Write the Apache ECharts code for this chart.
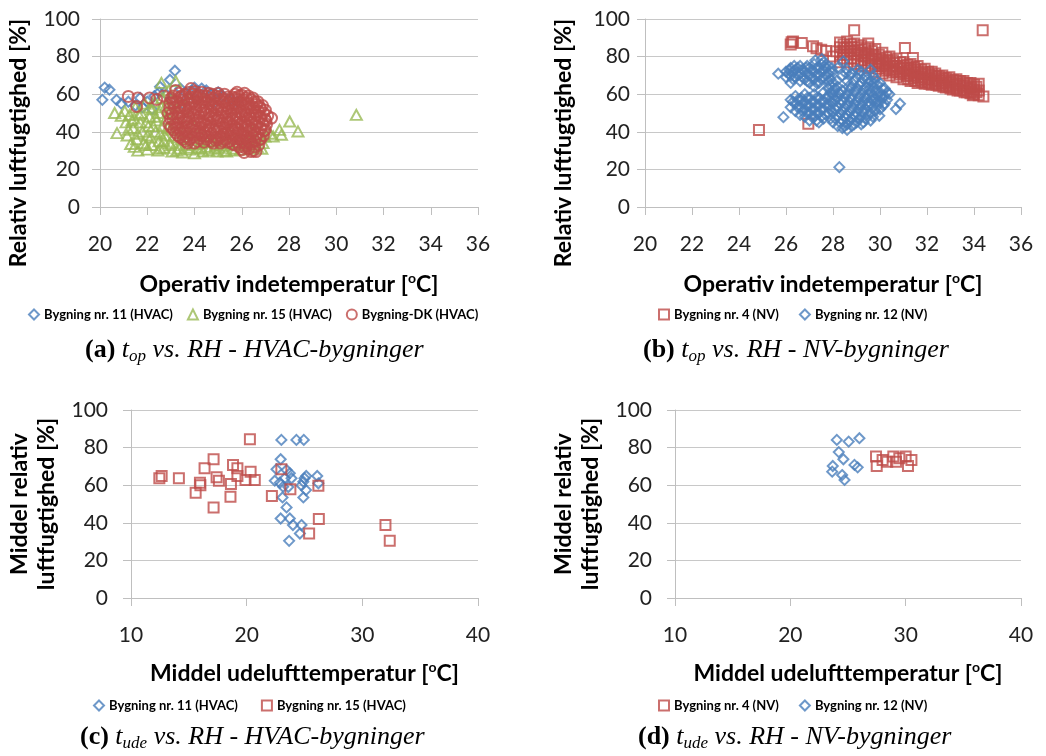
<!DOCTYPE html>
<html>
<head>
<meta charset="utf-8">
<script src="https://cdn.jsdelivr.net/npm/echarts@6/dist/echarts.min.js"></script>
<style>
  html, body { margin: 0; padding: 0; background: #fff; }
  .panel { position: absolute; width: 523px; height: 378px; }
</style>
</head>
<body>
<div id="pa" class="panel" style="left:0;top:0"></div>
<div id="pb" class="panel" style="left:523px;top:0"></div>
<div id="pc" class="panel" style="left:0;top:378px"></div>
<div id="pd" class="panel" style="left:523px;top:378px"></div>
<script>
// ---------- data: [temperature °C, relative humidity %] ----------

// (a) operative indoor temperature vs RH, HVAC buildings
const topHvac11 = [
  [20.1,57],[20.2,63.5],[20.4,62.4],[20.7,57],[20.9,55],[21.2,56],[21.5,54],[21.7,58],
  [22.0,56],[22.2,52],[21.8,53],[22.3,59],[22.5,61],[22.54,64],[22.8,60],[22.96,67.7],
  [23.17,72.5],[23.0,57],[23.4,63],[23.5,55],[23.6,61],[23.9,62],[24.0,63.5],[24.1,57],
  [24.3,63],[24.5,62],[24.7,60],[24.8,55],[25.0,61],[25.2,59],[25.5,57],[25.8,56]
];
const topHvac15 = [
  [20.62,50],[20.72,39.3],[20.9,48.5],[21.05,51],[21.1,45],[21.15,38],[21.25,49],[21.3,33.5],
  [21.4,42],[21.45,47],[21.5,53],[21.55,36],[21.6,30],[21.7,45],[21.75,50],[21.8,40],
  [21.85,34],[21.9,55],[22.0,30.5],[22.05,43],[22.1,48],[22.15,37],[22.2,52],[22.2,33],
  [22.3,56],[22.35,40],[22.4,46],[22.45,30],[22.5,35],[22.5,50],[22.6,66],[22.62,58],
  [22.65,43],[22.7,31.5],[22.75,38],[22.8,54],[22.8,47],[22.9,62],[22.95,34],[23.0,41],
  [23.05,29.5],[23.1,50],[23.1,57],[23.2,67],[23.22,45],[23.3,37],[23.35,31],[23.4,54],
  [23.5,29],[23.55,40],[23.6,33],[23.7,48],[23.8,30.5],[23.9,36],[24.0,28.5],[24.0,43],
  [23.8,58],[24.4,57],[24.15,31.5],[24.25,34],[24.35,29.5],[24.45,38],[24.5,32],[24.6,30],
  [24.7,35],[24.85,31],[24.95,29.5],[25.0,37],[25.15,32.5],[25.25,30],[25.36,29.5],[25.45,34],
  [25.5,39],[25.6,31],[25.75,33],[25.85,36],[25.95,30.5],[26.15,33],[26.25,37],[26.35,31],
  [26.45,40],[26.5,35],[26.65,32],[26.75,38],[26.85,31],[26.98,37.5],[27.2,39],[27.33,37.5],
  [27.6,41],[27.68,38.4],[28.03,45.5],[28.38,40.2],[30.85,49],
  [21.2,41],[21.35,46],[21.6,39],[21.65,49],[21.95,45],[22.0,38],[22.1,53],[22.25,43],
  [22.35,48],[22.55,39],[22.6,53],[22.7,35],[22.85,42],[22.9,51],[23.0,33],[23.15,38],
  [23.25,30],[23.45,36],[21.95,33],[21.45,32],[22.55,31],[23.7,31.5],[24.05,33.5],[24.55,35],
  [24.9,33],[25.3,36],[25.7,30],[26.05,34],[26.55,33],[26.9,34],[26.3,35],[25.05,31.5],[24.3,31]
];
const topHvacDK = [
  [21.2,58.8],[21.55,53.5],[21.6,58],[22.1,58],[22.4,57.2],[22.7,59],
  [22.92,44],[22.88,50],[22.95,55.5],
  [23.12,41],[23.08,47],[23.15,53],[23.1,59],
  [23.3,38],[23.28,44.5],[23.33,50],[23.27,56],[23.2,62],
  [23.52,36],[23.48,42],[23.5,48],[23.55,54],[23.46,59],
  [23.7,34],[23.74,39],[23.68,45],[23.72,51],[23.7,57],[23.85,63],
  [23.92,37],[23.9,43],[23.95,49],[23.88,55],[23.93,60],
  [24.12,35],[24.1,40],[24.15,46],[24.08,52],[24.13,58],
  [24.3,38],[24.33,44],[24.28,50],[24.32,56],[24.3,61],
  [24.52,36],[24.5,41],[24.55,47],[24.48,53],[24.5,59],
  [24.7,35],[24.73,39],[24.68,45],[24.72,51],[24.7,57],[24.75,60],
  [24.9,37],[24.93,43],[24.88,49],[24.92,55],[24.9,59],
  [25.1,34],[25.12,40],[25.08,46],[25.13,52],[25.07,58.8],
  [25.3,36],[25.28,42],[25.33,48],[25.3,54],[25.27,60],
  [25.5,35],[25.52,39],[25.48,45],[25.53,51],[25.5,57],
  [25.7,33],[25.72,38],[25.68,43],[25.73,49],[25.7,55],[25.72,60],
  [25.9,32],[25.92,36],[25.88,41],[25.93,47],[25.9,53],[25.88,59],
  [26.1,29],[26.12,34],[26.08,39],[26.13,45],[26.1,51],[26.07,57],[26.12,60.5],
  [26.3,31],[26.33,37],[26.28,43],[26.32,49],[26.3,55],[26.28,59],
  [26.5,30],[26.55,35],[26.48,41],[26.52,47],[26.5,53],[26.47,58],
  [26.6,29.5],[26.72,33],[26.68,39],[26.73,45],[26.7,51],[26.68,56],
  [26.92,38],[26.9,44],[26.93,50],[26.88,54],[27.26,47.3],
  [22.98,47],[22.95,52.5],[23.02,58],[23.2,39.5],[23.18,44],[23.22,50],[23.2,56],[23.4,37],
  [23.38,41],[23.42,47],[23.4,53],[23.38,58.5],[23.62,35],[23.6,40.5],[23.64,46.5],[23.6,52.5],
  [23.62,60],[23.8,36],[23.82,41.5],[23.78,47],[23.8,53],[23.82,58.5],[24.0,34],[24.02,38.5],
  [24.0,44.5],[24.03,50.5],[24.0,56],[24.02,61.5],[24.2,36.5],[24.22,42],[24.2,48],[24.22,54],
  [24.2,59.5],[24.4,34.5],[24.42,39.5],[24.4,45.5],[24.4,51.5],[24.42,57.5],[24.6,37.5],[24.62,43],
  [24.6,49],[24.62,55],[24.6,60.5],[24.8,34],[24.82,41],[24.8,47],[24.8,53],[24.82,58],
  [25.0,36],[25.02,41.5],[25.0,47.5],[25.02,53.5],[25.0,60.5],[25.2,35],[25.22,38.5],[25.2,44.5],
  [25.2,50],[25.22,56],[25.4,34.5],[25.42,40.5],[25.4,46.5],[25.4,52.5],[25.42,58.5],[25.6,36.5],
  [25.62,41],[25.6,47],[25.62,53],[25.6,58.5],[25.8,34.5],[25.82,39.5],[25.8,45],[25.8,51],
  [25.82,57],[25.8,61],[26.0,30.5],[26.02,35],[26.0,43],[26.02,49],[26.0,55],[26.0,59.5],
  [26.2,32.5],[26.22,36],[26.2,41],[26.22,47],[26.2,53],[26.2,58],[26.4,29.5],[26.42,33.5],
  [26.4,39],[26.42,45],[26.4,51],[26.4,57],[26.6,37],[26.62,43],[26.6,49],[26.62,54.5],
  [26.8,36],[26.82,41.5],[26.8,47.5],[26.8,52.5],[27.0,41],[27.02,46],[27.0,51.5],[27.1,48.5],
  [23.0,42.5],[23.05,49.5],[23.1,55.5],[23.25,42],[23.3,47.5],[23.35,53],[23.35,60.5],[23.45,39],
  [23.55,45],[23.5,51],[23.55,57],[23.65,37.5],[23.7,42.5],[23.75,48.5],[23.75,55],[23.78,61],
  [23.98,40.5],[24.05,46.5],[24.05,53],[24.08,59],[24.25,39],[24.28,45],[24.3,53.5],[24.35,59],
  [24.45,37.5],[24.5,43.5],[24.5,50],[24.55,56],[24.65,41],[24.7,48],[24.75,54],[24.9,35.5],
  [24.95,40],[24.95,46],[24.98,52],[25.05,57],[25.15,37.5],[25.2,42.5],[25.18,48.5],[25.25,57.5],
  [25.35,39],[25.38,44.5],[25.4,50.5],[25.45,55.5],[25.6,33.5],[25.55,43],[25.55,49],[25.58,54.5],
  [25.78,36.5],[25.75,41.5],[25.78,47],[25.75,52.5],[25.75,58],[25.98,38.5],[25.98,44.5],[25.95,50.5],
  [25.98,56.5],[26.15,31.5],[26.18,37.5],[26.18,43],[26.15,49],[26.18,55],[26.35,35],[26.35,41],
  [26.38,47],[26.35,53],[26.55,32],[26.58,38.5],[26.55,44.5],[26.58,50.5],[26.55,56],[26.75,36],
  [26.78,42],[26.75,48],[26.75,53.5],[26.95,40.5],[26.98,47],[27.05,44]
];

// (b) operative indoor temperature vs RH, naturally ventilated buildings
const topNv4 = [
  [24.85,41],[26.95,44.3],[28.9,94],[34.37,94],[34.4,58.8],[31.06,84.6],[31.4,79.3],
  [26.24,87.6],[26.3,88],[26.67,87.3],[27.15,85.5],[27.5,83.7],[27.3,84.5],[26.2,86.5],
  [28.15,82.8],[28.0,80],[27.7,83],
  [28.3,77],[28.3,81],[28.3,85],[28.3,87.5],
  [28.6,77],[28.6,81],[28.6,85],[28.6,88],
  [28.9,76],[28.9,79],[28.9,83],[28.9,87],
  [29.2,75],[29.2,78],[29.2,82],[29.2,86],
  [29.5,74],[29.5,78],[29.5,81],[29.5,85],[29.5,87],
  [29.8,72],[29.8,76],[29.8,80],[29.8,84],
  [30.1,71],[30.1,75],[30.1,78],[30.1,82],
  [30.4,70],[30.4,73],[30.4,77],[30.4,80],
  [30.7,69],[30.7,72],[30.7,75],[30.7,79],
  [31.0,68],[31.0,71],[31.0,74],[31.0,77],
  [31.3,67],[31.3,70],[31.3,73],[31.3,76],
  [31.6,66],[31.6,69],[31.6,72],[31.6,75],
  [31.9,65.5],[31.9,68],[31.9,71],[31.9,73.5],
  [32.2,65],[32.2,67.5],[32.2,70],[32.2,72],
  [32.5,64.5],[32.5,67],[32.5,69.5],
  [32.8,63.5],[32.8,66],[32.8,68.5],
  [33.1,62.5],[33.1,65],[33.1,67.5],
  [33.4,62],[33.4,64.5],[33.4,67],
  [33.7,61],[33.7,63.5],[33.7,66],
  [34.0,60],[34.0,62.5],[34.0,65],
  [34.2,59.5],[34.2,62],[34.2,65.5],
  [28.45,79],[28.45,83],[28.45,86.5],[28.75,79],[28.75,83],[28.75,86.5],[29.05,77.5],[29.05,81],
  [29.05,85],[29.35,76.5],[29.35,80],[29.35,84],[29.65,75],[29.65,79],[29.65,83],[29.95,73.5],
  [29.95,77],[29.95,81],[30.25,72.5],[30.25,76],[30.25,79.5],[30.55,71.5],[30.55,75],[30.55,78],
  [30.85,70.5],[30.85,73.5],[30.85,77],[31.15,69.5],[31.15,72.5],[31.15,75.5],[31.45,68.5],[31.45,71.5],
  [31.45,74.5],[31.75,67.5],[31.75,70.5],[31.75,73],[32.05,66.5],[32.05,69],[32.05,72],[32.35,66],
  [32.35,68.5],[32.35,71],[32.65,65],[32.65,67.5],[32.65,70],[32.95,64],[32.95,66.5],[32.95,69],
  [33.25,63],[33.25,65.5],[33.25,68],[33.55,62],[33.55,64.5],[33.55,67],[33.85,60.5],[33.85,63],
  [33.85,66],[34.1,61],[34.1,64],
  [28.5,84.5],[28.8,85],[29.1,83.5],[29.4,82],[29.7,81],[30.0,79],[30.3,78],[30.6,76.5],
  [30.9,75],[31.2,74],[31.5,73],[31.8,71.5],[32.1,70.5],[32.4,69.5],[32.7,68.5],[33.0,67],
  [33.3,66],[33.6,65],[33.9,64],[30.0,75],[30.3,74],[30.6,73],[30.9,72],[31.2,71],
  [31.5,70],[31.8,69],[32.1,68],[32.4,67],[32.7,66],[33.0,64.5],[33.3,63.5],[33.6,62.5],
  [33.9,61.5],[31.2,68],[31.5,67],[31.8,66.5],[32.1,65.5],[32.4,65],[32.7,64],[33.0,63],
  [33.3,62],[33.6,61],[33.95,59.5]
];
const topNv12 = [
  [25.67,70.9],[25.89,47.8],[28.27,21.2],[30.68,52.1],[30.85,54.9],[29.97,48.5],[28.44,77.5],[27.52,78.7],
  [26.0,72],[26.0,69],[26.2,74],[26.2,70],[26.2,66],[26.4,73],[26.4,69],
  [26.6,75],[26.6,71],[26.6,67],[26.8,72],[26.8,68],[27.0,74],[27.0,70],[27.0,66],
  [27.2,76],[27.2,72],[27.2,68],[27.2,64],[27.4,74],[27.4,70],[27.4,66],
  [27.6,77],[27.6,73],[27.6,69],[27.8,75],[27.8,71],[27.8,67],
  [26.2,57],[26.2,53],[26.4,59],[26.4,55],[26.4,51],[26.6,57],[26.6,53],[26.6,49],
  [26.8,60],[26.8,56],[26.8,52],[26.8,48],[27.0,58],[27.0,54],[27.0,50],[27.0,46],
  [27.2,60],[27.2,56],[27.2,52],[27.2,48],[27.4,58],[27.4,54],[27.4,50],[27.4,45],
  [27.6,61],[27.6,56],[27.6,52],[27.6,47],[27.8,63],[27.8,59],[27.8,54],[27.8,50],
  [28.0,72],[28.0,66],[28.0,60],[28.0,55],[28.0,50],[28.0,45],
  [28.2,74],[28.2,64],[28.2,58],[28.2,53],[28.2,48],[28.2,43],
  [28.4,70],[28.4,62],[28.4,56],[28.4,51],[28.4,46],[28.4,42],
  [28.6,73],[28.6,67],[28.6,60],[28.6,54],[28.6,49],[28.6,44],[28.6,41],
  [28.8,71],[28.8,64],[28.8,58],[28.8,52],[28.8,47],[28.8,43],
  [29.0,69],[29.0,62],[29.0,56],[29.0,50],[29.0,45],
  [29.2,72],[29.2,66],[29.2,60],[29.2,54],[29.2,48],[29.2,44],
  [29.4,70],[29.4,64],[29.4,58],[29.4,52],[29.4,47],
  [29.6,73],[29.6,67],[29.6,61],[29.6,55],[29.6,50],[29.6,46],
  [29.8,68],[29.8,62],[29.8,57],[29.8,51],
  [30.0,66],[30.0,61],[30.0,56],[30.0,52],
  [30.2,63],[30.2,59],[30.2,55],[30.4,60],
  [26.1,71],[26.3,72],[26.3,68],[26.5,74],[26.5,70],[26.7,73],[26.7,69],[26.9,75],
  [26.9,71],[26.9,67],[27.1,73],[27.1,69],[27.3,74],[27.3,70],[27.3,66],[27.5,76],
  [27.5,72],[27.5,68],[27.7,74],[27.7,70],[27.9,72],[27.9,68],
  [26.3,56],[26.5,57],[26.5,53],[26.7,55],[26.7,51],[26.9,58],[26.9,54],[26.9,50],
  [27.1,56],[27.1,52],[27.1,48],[27.3,58],[27.3,54],[27.3,50],[27.3,46],[27.5,56],
  [27.5,52],[27.5,48],[27.7,58],[27.7,54],[27.7,49],[27.9,61],[27.9,56],[27.9,52],[27.9,47],
  [28.1,63],[28.1,57],[28.1,52],[28.1,47],[28.3,60],[28.3,55],[28.3,50],[28.3,45],
  [28.5,58],[28.5,53],[28.5,48],[28.5,43],[28.7,70],[28.7,62],[28.7,56],[28.7,51],
  [28.7,46],[28.9,67],[28.9,61],[28.9,55],[28.9,49],[28.9,44],[29.1,71],[29.1,65],
  [29.1,58],[29.1,52],[29.1,47],[29.3,68],[29.3,62],[29.3,56],[29.3,50],[29.3,45],
  [29.5,66],[29.5,60],[29.5,54],[29.5,49],[29.7,70],[29.7,64],[29.7,59],[29.7,53],
  [29.7,48],[29.9,65],[29.9,59],[29.9,54],[30.1,63],[30.1,58],[30.3,61],[30.3,57],
  [28.15,67],[28.25,61],[28.35,57],[28.45,52],[28.55,47],[28.65,64],[28.75,58],[28.85,53],
  [28.95,48],[29.05,63],[29.15,55],[29.25,51],[29.35,59],[29.45,55],[29.55,63],[29.65,57],
  [29.75,66],[29.85,56],[30.05,59],[30.15,54],[28.05,62],[27.95,58],[28.55,71],[29.05,73],
  [29.45,68],[26.65,58],[27.85,65],[26.15,73],[26.85,74],[27.25,78],[27.65,75],[27.95,74],[26.35,75]
];

// (c) mean outdoor temperature vs mean RH, HVAC buildings
const outHvac11 = [
  [23.0,84.1],[24.3,84.1],[24.94,84.1],[22.94,73.8],[22.58,68.5],[22.43,62.4],[22.87,61.3],
  [23.3,63.7],[23.45,68.1],[23.73,66.4],[23.88,63.7],[23.15,59.2],[23.6,59],[23.1,53.5],
  [23.45,48.2],[22.94,42.3],[23.73,42.3],[24.0,38.8],[23.67,30.4],[24.6,34.3],[24.74,38.8],
  [24.9,53.5],[25.13,57.4],[24.74,59.9],[25.0,63.7],[25.15,64.9],[24.9,61.9],[26.1,64.9],[26.2,61]
];
const outHvac15 = [
  [12.45,63.7],[12.65,64.9],[14.14,63.7],[15.59,56],[15.96,61.3],[16.0,60],[16.36,69],
  [17.14,73.8],[17.14,48.2],[17.4,64.2],[17.6,62.4],[18.6,53.9],[18.64,60.6],[18.82,70.8],
  [19.2,69],[19.2,64.9],[19.9,62.8],[20.28,84.5],[20.34,67.2],[20.7,62.8],[22.18,54.2],
  [23.0,68.5],[23.78,57.8],[25.4,34.3],[26.2,59.7],[26.24,42],[32.0,38.8],[32.37,30.4]
];

// (d) mean outdoor temperature vs mean RH, naturally ventilated buildings
const outNv4 = [
  [27.43,75.2],[27.49,70.2],[28.0,73.4],[28.4,72.5],[28.93,75.2],[29.16,72.5],
  [29.45,74.3],[30.0,75.2],[30.2,70.2],[30.5,73.4]
];
const outNv12 = [
  [24.03,84.1],[25.06,83.2],[25.99,85],[24.2,77.6],[24.6,73.8],[23.68,70.2],
  [23.63,67.2],[25.56,70.8],[25.84,69.5],[24.49,65.4],[24.7,62.8]
];

// ---------- styling ----------
const BLUE = '#4a7ebb', RED = '#be4b48', GREEN = '#98b954';
const SANS = 'Lato, "Open Sans", sans-serif';
const SERIF = '"Liberation Serif", "DejaVu Serif", serif';
const AXIS_GREY = '#bfbfbf', GRID_GREY = '#c8c8c8';

function scatter(name, data, symbol, size, color) {
  return {
    type: 'scatter', name: name, data: data, symbol: symbol, symbolSize: size,
    itemStyle: { color: 'rgba(255,255,255,0)', borderColor: color, borderWidth: 2 },
    emphasis: { disabled: true }, silent: true
  };
}

const nameStyle = {
  fontFamily: SANS, fontWeight: 'bold', fontSize: 23, color: '#000', lineHeight: 27,
  rich: { o: { fontFamily: SANS, fontWeight: 'bold', fontSize: 14, lineHeight: 14, verticalAlign: 'top', color: '#000' } }
};
const captionRich = {
  b: { fontFamily: SERIF, fontWeight: 'bold', fontSize: 26, lineHeight: 30, color: '#000' },
  i: { fontFamily: SERIF, fontStyle: 'italic', fontSize: 26, lineHeight: 30, color: '#000' },
  s: { fontFamily: SERIF, fontStyle: 'italic', fontSize: 17, lineHeight: 16, verticalAlign: 'bottom', color: '#000' }
};

function makePanel(id, c) {
  const chart = echarts.init(document.getElementById(id), null, { renderer: 'canvas' });
  chart.setOption({
    animation: false,
    backgroundColor: '#fff',
    grid: Object.assign({ outerBoundsMode: 'none', containLabel: false }, c.grid),
    title: {
      text: c.caption, left: c.capLeft, top: c.capTop, padding: 0,
      textStyle: { fontFamily: SERIF, fontWeight: 'normal', fontSize: 26, color: '#000', rich: captionRich }
    },
    legend: {
      left: c.legLeft, top: c.legTop, padding: 0, itemGap: c.legGap,
      itemWidth: 10, itemHeight: 10, selectedMode: false,
      textStyle: { fontFamily: SANS, fontWeight: 'bold', fontSize: 13, color: '#000' },
      data: c.series.map(s => s.name)
    },
    xAxis: {
      type: 'value', min: c.xMin, max: c.xMax, interval: c.xInt,
      axisLine: { show: true, lineStyle: { color: AXIS_GREY, width: 1 } },
      axisTick: { show: true, length: 8, lineStyle: { color: AXIS_GREY } },
      splitLine: { show: false },
      axisLabel: { margin: 27, fontFamily: SANS, fontSize: 21, color: '#222' },
      name: c.xName, nameLocation: 'middle', nameGap: c.xNameGap, nameTextStyle: nameStyle
    },
    yAxis: {
      type: 'value', min: 0, max: 100, interval: 20,
      axisLine: { show: true, lineStyle: { color: AXIS_GREY, width: 1 } },
      axisTick: { show: true, length: 8, lineStyle: { color: AXIS_GREY } },
      splitLine: { show: true, lineStyle: { color: GRID_GREY, width: 1 } },
      axisLabel: { margin: c.yLabMargin, fontFamily: SANS, fontSize: 21, color: '#222' },
      name: c.yName, nameLocation: 'middle', nameGap: c.yNameGap,
      nameTextStyle: Object.assign({}, nameStyle, { padding: c.yNamePad || 0 })
    },
    series: c.series
  });
}

const TOP_X = 'Operativ indetemperatur [{o|o}C]';
const OUT_X = 'Middel udelufttemperatur [{o|o}C]';

makePanel('pa', {
  grid: { left: 100, top: 19, width: 378, height: 188 },
  xMin: 20, xMax: 36, xInt: 2, xName: TOP_X, xNameGap: 64,
  yName: 'Relativ luftfugtighed [%]', yNameGap: 60, yLabMargin: 20, yNamePad: [0, 60, 0, 0],
  legLeft: 28, legTop: 308, legGap: 14,
  caption: '{b|(a)} {i|t}{s|op}{i| vs. RH - HVAC-bygninger}', capLeft: 85, capTop: 335,
  series: [
    scatter('Bygning nr. 11 (HVAC)', topHvac11, 'diamond', 10, BLUE),
    scatter('Bygning nr. 15 (HVAC)', topHvac15, 'triangle', [11, 10], GREEN),
    scatter('Bygning-DK (HVAC)', topHvacDK, 'circle', 11, RED)
  ]
});

makePanel('pb', {
  grid: { left: 122, top: 19, width: 376, height: 188 },
  xMin: 20, xMax: 36, xInt: 2, xName: TOP_X, xNameGap: 64,
  yName: 'Relativ luftfugtighed [%]', yNameGap: 68, yLabMargin: 15, yNamePad: [0, 60, 0, 0],
  legLeft: 135, legTop: 308, legGap: 20,
  caption: '{b|(b)} {i|t}{s|op}{i| vs. RH - NV-bygninger}', capLeft: 120, capTop: 335,
  series: [
    scatter('Bygning nr. 4 (NV)', topNv4, 'rect', 10, RED),
    scatter('Bygning nr. 12 (NV)', topNv12, 'diamond', 10, BLUE)
  ]
});

makePanel('pc', {
  grid: { left: 131, top: 32, width: 347, height: 188 },
  xMin: 10, xMax: 40, xInt: 10, xName: OUT_X, xNameGap: 62,
  yName: 'Middel relativ\nluftfugtighed [%]', yNameGap: 67, yLabMargin: 23,
  legLeft: 93, legTop: 321, legGap: 23,
  caption: '{b|(c)} {i|t}{s|ude}{i| vs. RH - HVAC-bygninger}', capLeft: 80, capTop: 344,
  series: [
    scatter('Bygning nr. 11 (HVAC)', outHvac11, 'diamond', 10, BLUE),
    scatter('Bygning nr. 15 (HVAC)', outHvac15, 'rect', 10, RED)
  ]
});

makePanel('pd', {
  grid: { left: 152, top: 32, width: 346, height: 188 },
  xMin: 10, xMax: 40, xInt: 10, xName: OUT_X, xNameGap: 62,
  yName: 'Middel relativ\nluftfugtighed [%]', yNameGap: 68, yLabMargin: 23,
  legLeft: 135, legTop: 321, legGap: 20,
  caption: '{b|(d)} {i|t}{s|ude}{i| vs. RH - NV-bygninger}', capLeft: 115, capTop: 344,
  series: [
    scatter('Bygning nr. 4 (NV)', outNv4, 'rect', 10, RED),
    scatter('Bygning nr. 12 (NV)', outNv12, 'diamond', 10, BLUE)
  ]
});
</script>
</body>
</html>
